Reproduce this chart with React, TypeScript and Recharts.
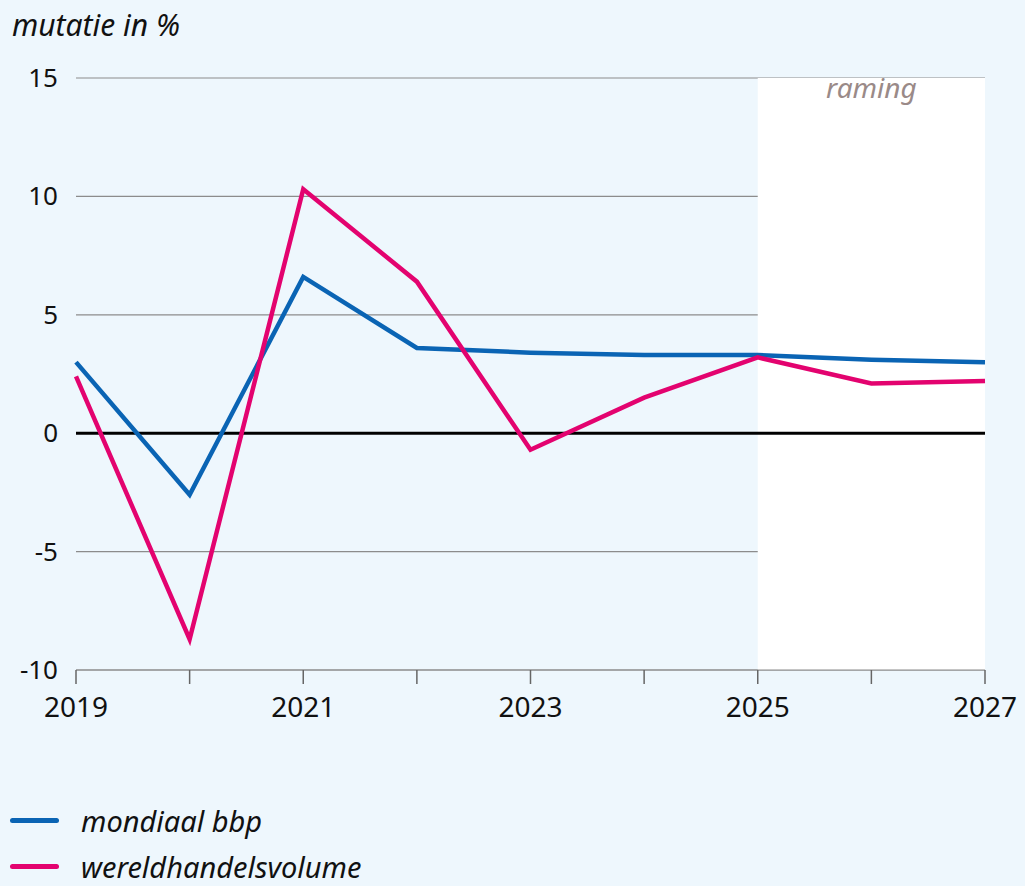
import * as React from 'react';
import {
  LineChart,
  Line,
  XAxis,
  YAxis,
  CartesianGrid,
  ReferenceLine,
  ReferenceArea,
} from 'recharts';

const years = [2019, 2020, 2021, 2022, 2023, 2024, 2025, 2026, 2027];
const mondiaalBbp = [3.0, -2.6, 6.6, 3.6, 3.4, 3.3, 3.3, 3.1, 3.0];
const wereldhandel = [2.4, -8.7, 10.3, 6.4, -0.7, 1.5, 3.2, 2.1, 2.2];
const yTicks = [-10, -5, 0, 5, 10, 15];
const xLabels = [2019, 2021, 2023, 2025, 2027];

const BLUE = '#0a64b4';
const PINK = '#e3036f';
const FONT = '"Noto Sans", "Open Sans", sans-serif';

const data = years.map((year, i) => ({
  year,
  bbp: mondiaalBbp[i],
  handel: wereldhandel[i],
}));

const YTick = (props: any) => {
  const { y, payload } = props;
  return (
    <text x={58} y={y + 9} textAnchor="end" fontSize={26} fontFamily={FONT} fill="#111">
      {payload.value}
    </text>
  );
};

const XTick = (props: any) => {
  const { x, y, payload } = props;
  if (!xLabels.includes(payload.value)) return <g />;
  return (
    <text x={x} y={y + 31} textAnchor="middle" fontSize={28} fontFamily={FONT} fill="#111">
      {payload.value}
    </text>
  );
};

export default function App() {
  return (
    <div
      style={{
        position: 'absolute',
        left: 0,
        top: 0,
        width: 1025,
        height: 886,
        background: '#eef7fd',
        fontFamily: FONT,
        overflow: 'hidden',
      }}
    >
      <div
        style={{
          position: 'absolute',
          left: 12,
          top: 7,
          fontSize: 30,
          lineHeight: 1.2,
          fontStyle: 'italic',
          color: '#111',
        }}
      >
        mutatie in %
      </div>
      <LineChart
        width={1025}
        height={886}
        data={data}
        margin={{ top: 78, right: 40, bottom: 186, left: 0 }}
      >
        <ReferenceArea
          x1={2025}
          x2={2027}
          y1={-10}
          y2={15}
          fill="#ffffff"
          fillOpacity={1}
          stroke="none"
          label={{
            value: 'raming',
            position: 'insideTop',
            offset: 0,
            fill: '#9a8a88',
            fontSize: 28,
            fontStyle: 'italic',
            fontFamily: FONT,
          }}
        />
        <CartesianGrid vertical={false} stroke="#8c8c8c" strokeWidth={1.2} />
        <XAxis
          dataKey="year"
          type="number"
          domain={[2019, 2027]}
          ticks={years}
          height={30}
          axisLine={{ stroke: '#8c8c8c', strokeWidth: 1.2 }}
          tickLine={{ stroke: '#666', strokeWidth: 1.5 }}
          tickSize={14}
          tick={<XTick />}
          interval={0}
        />
        <YAxis
          type="number"
          domain={[-10, 15]}
          ticks={yTicks}
          width={76}
          axisLine={false}
          tickLine={false}
          tick={<YTick />}
          interval={0}
        />
        <ReferenceLine y={0} stroke="#000" strokeWidth={3} />
        <Line
          dataKey="bbp"
          stroke={BLUE}
          strokeWidth={4.5}
          dot={false}
          type="linear"
          isAnimationActive={false}
        />
        <Line
          dataKey="handel"
          stroke={PINK}
          strokeWidth={4.5}
          dot={false}
          type="linear"
          isAnimationActive={false}
        />
      </LineChart>
      {[
        { label: 'mondiaal bbp', color: BLUE, top: 804 },
        { label: 'wereldhandelsvolume', color: PINK, top: 850 },
      ].map((item) => (
        <div
          key={item.label}
          style={{
            position: 'absolute',
            left: 10,
            top: item.top,
            height: 32,
            display: 'flex',
            alignItems: 'center',
          }}
        >
          <div style={{ width: 49, height: 5, borderRadius: 3, background: item.color }} />
          <span
            style={{
              marginLeft: 22,
              fontSize: 29,
              lineHeight: 1,
              fontStyle: 'italic',
              color: '#111',
            }}
          >
            {item.label}
          </span>
        </div>
      ))}
    </div>
  );
}
